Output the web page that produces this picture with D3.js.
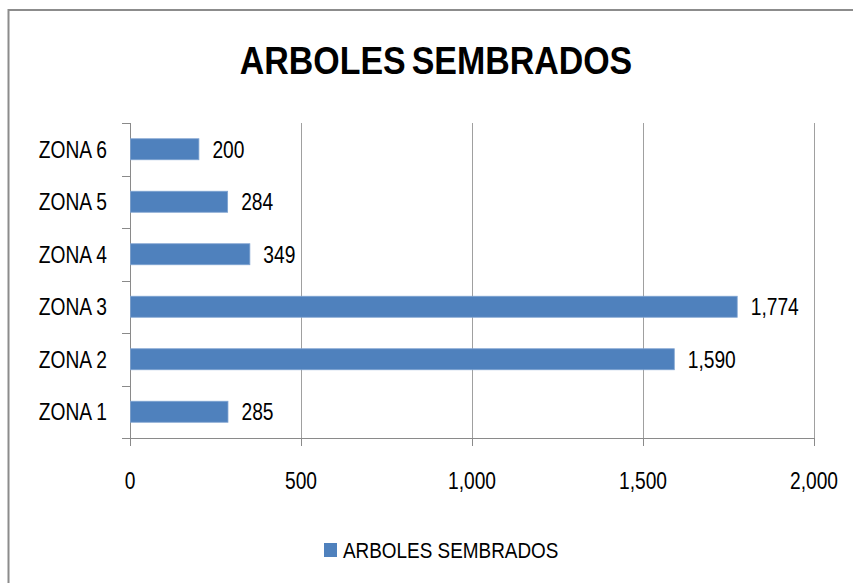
<!DOCTYPE html>
<html>
<head>
<meta charset="utf-8">
<script src="https://cdn.jsdelivr.net/npm/d3@7"></script>
<style>
  html, body { margin: 0; padding: 0; background: #fff; }
  svg { display: block; }
  text { font-family: "Liberation Sans", Arial, sans-serif; fill: #000; }
</style>
</head>
<body>
<div id="chart"></div>
<script>
const title = "ARBOLES SEMBRADOS";
const seriesName = "ARBOLES SEMBRADOS";
const categories = ["ZONA 1", "ZONA 2", "ZONA 3", "ZONA 4", "ZONA 5", "ZONA 6"];
const values = [285, 1590, 1774, 349, 284, 200];
const xTicks = [0, 500, 1000, 1500, 2000];

const W = 853, H = 583;
const margin = { left: 130, right: 39, top: 123, bottom: 145 };
const innerW = W - margin.left - margin.right;
const innerH = H - margin.top - margin.bottom;
const barColor = "#4F81BD";
const fmt = d3.format(",");

const svg = d3.select("#chart").append("svg").attr("width", W).attr("height", H);
svg.append("rect").attr("width", W).attr("height", H).attr("fill", "#fff");

// chart border (right/bottom fall outside the frame)
svg.append("rect").attr("x", 8.5).attr("y", 10).attr("width", W + 10).attr("height", H + 10)
  .attr("fill", "none").attr("stroke", "#8c8c8c").attr("stroke-width", 2);

const x = d3.scaleLinear().domain([0, 2000]).range([0, innerW]);
const y = d3.scaleBand().domain(categories.slice().reverse()).range([0, innerH])
  .paddingInner(0.6).paddingOuter(0.3);
const yb = d3.scaleBand().domain(categories.slice().reverse()).range([0, innerH]);

const g = svg.append("g").attr("transform", `translate(${margin.left},${margin.top})`);

// gridlines
g.selectAll(".grid").data(xTicks.filter(d => d > 0)).enter().append("line")
  .attr("x1", d => Math.round(x(d)) + 0.5).attr("x2", d => Math.round(x(d)) + 0.5)
  .attr("y1", 0).attr("y2", innerH)
  .attr("stroke", "#a0a0a0").attr("stroke-width", 1);

// x axis line & ticks
g.append("line").attr("x1", 0).attr("x2", innerW).attr("y1", innerH + 0.5).attr("y2", innerH + 0.5)
  .attr("stroke", "#8a8a8a");
g.selectAll(".xt").data(xTicks).enter().append("line")
  .attr("x1", d => Math.round(x(d)) + 0.5).attr("x2", d => Math.round(x(d)) + 0.5)
  .attr("y1", innerH).attr("y2", innerH + 8).attr("stroke", "#8a8a8a");

// y axis line & ticks at band boundaries
g.append("line").attr("x1", 0.5).attr("x2", 0.5).attr("y1", 0).attr("y2", innerH).attr("stroke", "#8a8a8a");
const bounds = yb.domain().map(c => yb(c)).concat([innerH]);
g.selectAll(".yt").data(bounds).enter().append("line")
  .attr("x1", -8).attr("x2", 0).attr("y1", d => Math.round(d) + 0.5).attr("y2", d => Math.round(d) + 0.5)
  .attr("stroke", "#8a8a8a");

// bars
g.selectAll(".bar").data(categories).enter().append("rect")
  .attr("x", 0.5)
  .attr("y", c => y(c))
  .attr("width", (c, i) => x(values[i]))
  .attr("height", y.bandwidth())
  .attr("fill", barColor).attr("stroke", "#7fa3d1").attr("stroke-width", 0.8);

const SX = 0.8, FS = 24;

// y labels
g.selectAll(".ylab").data(categories).enter().append("text")
  .attr("transform", c => `translate(-23,${yb(c) + yb.bandwidth() / 2 + 8.5}) scale(${SX},1)`)
  .attr("text-anchor", "end").attr("font-size", FS)
  .text(c => c);

// value labels
g.selectAll(".vlab").data(categories).enter().append("text")
  .attr("transform", (c, i) => `translate(${x(values[i]) + 14},${yb(c) + yb.bandwidth() / 2 + 8.5}) scale(${SX},1)`)
  .attr("text-anchor", "start").attr("font-size", FS)
  .text((c, i) => fmt(values[i]));

// x tick labels
g.selectAll(".xlab").data(xTicks).enter().append("text")
  .attr("transform", d => `translate(${x(d)},${innerH + 51}) scale(${SX},1)`)
  .attr("text-anchor", "middle").attr("font-size", FS)
  .text(d => fmt(d));

// title
svg.append("text")
  .attr("transform", `translate(436,74) scale(0.87,1)`)
  .attr("text-anchor", "middle").attr("font-size", 39).attr("font-weight", "bold")
  .attr("word-spacing", -4)
  .text(title);

// legend
const lg = svg.append("g").attr("transform", "translate(324,542)");
lg.append("rect").attr("x", 0).attr("y", 1).attr("width", 13).attr("height", 14).attr("fill", barColor);
lg.append("text").attr("transform", `translate(19,16) scale(0.86,1)`)
  .attr("font-size", 22).text(seriesName);
</script>
</body>
</html>
